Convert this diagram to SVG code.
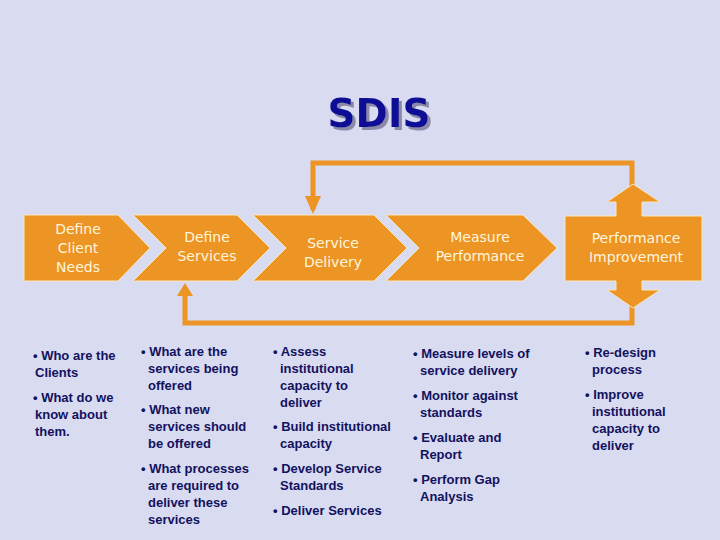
<svg xmlns="http://www.w3.org/2000/svg" width="720" height="540" viewBox="0 0 720 540">
<style>
.shape{fill:#ec9424;stroke:#f8e8c0;stroke-width:1}
.lbl{font-family:"DejaVu Sans",sans-serif;font-size:14px;fill:#fff6dc;text-anchor:middle}
.body{font-family:"Liberation Sans",Arial,sans-serif;font-size:13px;font-weight:bold;fill:#12125e}
.line{fill:none;stroke:#ec9424;stroke-width:5}
</style>
<defs><filter id="sh" x="-20%" y="-20%" width="140%" height="140%"><feDropShadow dx="3" dy="3" stdDeviation="0.5" flood-color="#8a8aa8"/></filter></defs>
<rect width="720" height="540" fill="#d9dbf0"/>
<text x="379" y="127" font-family="DejaVu Sans,sans-serif" font-size="39" font-weight="bold" fill="#0c0c96" text-anchor="middle" filter="url(#sh)">SDIS</text>
<g id="connectors">
<polyline class="line" points="313,210 313,163 632,163 632,186"/>
<polygon fill="#ec9424" points="305,196 321,196 313,214"/>
<polyline class="line" points="185,290 185,323 632,323 632,305"/>
<polygon fill="#ec9424" points="177,296 193,296 185,283"/>
</g>
<g id="n1"><polygon class="shape" points="24,215 118,215 150,248 118,281 24,281"/>
<text class="lbl" x="78" y="234">Define</text><text class="lbl" x="78" y="253">Client</text><text class="lbl" x="78" y="272">Needs</text></g>
<g id="n2"><polygon class="shape" points="133,215 237,215 270,248 237,281 133,281 166,248"/>
<text class="lbl" x="207" y="242">Define</text><text class="lbl" x="207" y="261">Services</text></g>
<g id="n3"><polygon class="shape" points="253,215 374,215 407,248 374,281 253,281 286,248"/>
<text class="lbl" x="333" y="248">Service</text><text class="lbl" x="333" y="267">Delivery</text></g>
<g id="n4"><polygon class="shape" points="386,215 523,215 557,248 523,281 386,281 419,248"/>
<text class="lbl" x="480" y="242">Measure</text><text class="lbl" x="480" y="261">Performance</text></g>
<g id="n5"><polygon class="shape" points="616,202 607,202 633,184 660,202 642,202 642,216 702,216 702,281 642,281 642,290 660,290 633,308 607,290 616,290 616,281 565,281 565,216 616,216"/>
<text class="lbl" x="636" y="243">Performance</text><text class="lbl" x="636" y="262">Improvement</text></g>
<g class="body">
<text x="33" y="360">• Who are the</text><text x="35" y="377">Clients</text>
<text x="33" y="402">• What do we</text><text x="35" y="419">know about</text><text x="35" y="436">them.</text>
<text x="141" y="356">• What are the</text><text x="148" y="373">services being</text><text x="148" y="390">offered</text>
<text x="141" y="414">• What new</text><text x="148" y="431">services should</text><text x="148" y="448">be offered</text>
<text x="141" y="473">• What processes</text><text x="148" y="490">are required to</text><text x="148" y="507">deliver these</text><text x="148" y="524">services</text>
<text x="273" y="356">• Assess</text><text x="280" y="373">institutional</text><text x="280" y="390">capacity to</text><text x="280" y="407">deliver</text>
<text x="273" y="431">• Build institutional</text><text x="280" y="448">capacity</text>
<text x="273" y="473">• Develop Service</text><text x="280" y="490">Standards</text>
<text x="273" y="515">• Deliver Services</text>
<text x="413" y="358">• Measure levels of</text><text x="420" y="375">service delivery</text>
<text x="413" y="400">• Monitor against</text><text x="420" y="417">standards</text>
<text x="413" y="442">• Evaluate and</text><text x="420" y="459">Report</text>
<text x="413" y="484">• Perform Gap</text><text x="420" y="501">Analysis</text>
<text x="585" y="357">• Re-design</text><text x="592" y="374">process</text>
<text x="585" y="399">• Improve</text><text x="592" y="416">institutional</text><text x="592" y="433">capacity to</text><text x="592" y="450">deliver</text>
</g>
</svg>
